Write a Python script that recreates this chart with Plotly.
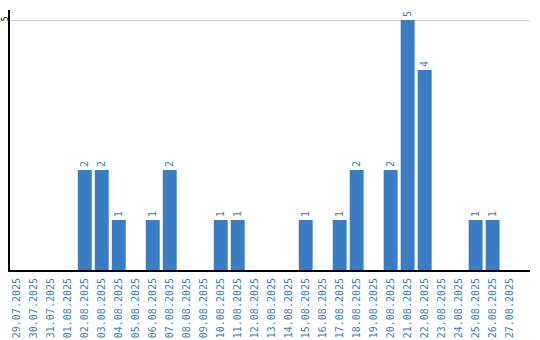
import plotly.graph_objects as go

dates = ["29.07.2025", "30.07.2025", "31.07.2025", "01.08.2025", "02.08.2025", "03.08.2025",
         "04.08.2025", "05.08.2025", "06.08.2025", "07.08.2025", "08.08.2025", "09.08.2025",
         "10.08.2025", "11.08.2025", "12.08.2025", "13.08.2025", "14.08.2025", "15.08.2025",
         "16.08.2025", "17.08.2025", "18.08.2025", "19.08.2025", "20.08.2025", "21.08.2025",
         "22.08.2025", "23.08.2025", "24.08.2025", "25.08.2025", "26.08.2025", "27.08.2025"]
counts = [0, 0, 0, 0, 2, 2, 1, 0, 1, 2, 0, 0, 1, 1, 0, 0, 0, 1, 0, 1, 2, 0, 2, 5, 4, 0, 0, 1, 1, 0]

blue = "#3b7dc4"
labels = [str(v) if v > 0 else "" for v in counts]

fig = go.Figure(go.Bar(
    x=dates, y=counts, marker_color=blue, marker_line_width=0,
    text=labels, textposition="outside", textangle=-90,
    textfont=dict(family="DejaVu Sans Mono", size=10, color=blue),
    cliponaxis=False,
))

fig.update_layout(
    width=540, height=340,
    margin=dict(l=10, r=10, t=10, b=70),
    plot_bgcolor="white", paper_bgcolor="white",
    bargap=0.18, showlegend=False,
    xaxis=dict(
        type="category", range=[-0.4, 30.2], tickangle=-90, automargin=False,
        tickfont=dict(family="DejaVu Sans Mono", size=10, color=blue),
        showline=True, linecolor="black", linewidth=2, showgrid=False,
        ticks="", ticklen=0, ticklabelstandoff=2,
    ),
    yaxis=dict(
        range=[0, 5.2], tickvals=[5], ticktext=["5"], tickangle=-90, automargin=False,
        tickfont=dict(family="DejaVu Sans Mono", size=8, color="black"),
        showline=True, linecolor="black", linewidth=2,
        showgrid=True, gridcolor="#cccccc", gridwidth=1, zeroline=False,
        ticks="", ticklen=0, ticklabelstandoff=-3,
    ),
    uniformtext=dict(minsize=8, mode="show"),
)

fig.write_html("out.html")
